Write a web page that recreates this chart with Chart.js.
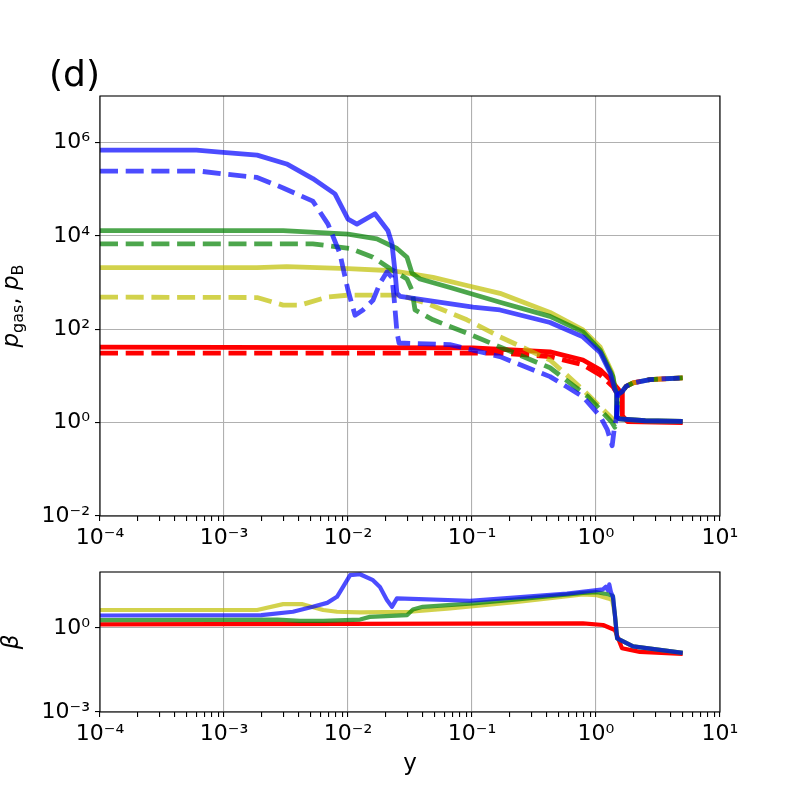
<!DOCTYPE html>
<html>
<head>
<meta charset="utf-8">
<script src="https://cdn.jsdelivr.net/npm/chart.js@4.4.1/dist/chart.umd.min.js"></script>
<style>
html,body{margin:0;padding:0;background:#fff;}
#wrap{position:relative;width:800px;height:800px;background:#fff;}
canvas{position:absolute;left:0;}
</style>
</head>
<body>
<div id="wrap">
<canvas id="topChart" width="800" height="560" style="top:0;width:800px;height:560px"></canvas>
<canvas id="botChart" width="800" height="240" style="top:560px;width:800px;height:240px"></canvas>
</div>
<script>
// ---------- tick values and labels ----------
const xTickVals = [1e-4, 1e-3, 1e-2, 1e-1, 1, 10];
const xTickLabels = ['10⁻⁴', '10⁻³', '10⁻²', '10⁻¹', '10⁰', '10¹'];
const pTickVals = [1e-2, 1, 1e2, 1e4, 1e6];
const pTickLabels = ['10⁻²', '10⁰', '10²', '10⁴', '10⁶'];
const betaTickVals = [1e-3, 1];
const betaTickLabels = ['10⁻³', '10⁰'];

// ---------- top panel: p_gas (solid) and p_B (dashed) ----------
const pGasBlueX = [1e-4, 6.0e-4, 9.8e-4, 1.85e-3, 3.2e-3, 5.2e-3, 7.85e-3, 1.0e-2, 1.18e-2, 1.65e-2, 2.1e-2, 2.26e-2, 2.39e-2, 2.48e-2, 2.63e-2, 0.102, 0.168, 0.426, 0.785, 1.08, 1.30, 1.42, 1.47, 1.47, 1.55, 2.5, 5.0];
const pGasBlueY = [6.9e5, 6.9e5, 6.2e5, 5.4e5, 3.5e5, 1.7e5, 8.0e4, 2.3e4, 1.8e4, 3.0e4, 1.3e4, 6.9e3, 1.8e3, 5.9e2, 5.1e2, 3.0e2, 2.6e2, 1.4e2, 69, 32, 11.7, 5.1, 4.3, 1.35, 1.2, 1.1, 1.07];

const pBBlueX = [1e-4, 6.4e-4, 1.06e-3, 1.85e-3, 3.0e-3, 5.2e-3, 6.9e-3, 8.6e-3, 1.0e-2, 1.14e-2, 1.32e-2, 1.59e-2, 1.81e-2, 2.06e-2, 2.26e-2, 2.35e-2, 2.48e-2, 2.58e-2, 6.65e-2, 0.102, 0.168, 0.426, 0.785, 1.08, 1.23, 1.30, 1.35, 1.40, 1.47, 1.50, 1.62, 1.75, 1.99, 2.72, 5.0];
const pBBlueY = [2.45e5, 2.45e5, 2.1e5, 1.8e5, 1.07e5, 5.6e4, 1.8e4, 4.2e3, 6.9e2, 2.0e2, 2.6e2, 4.2e2, 9.7e2, 1.7e3, 1.3e3, 4.9e2, 88, 51, 47, 36, 26, 9.7, 3.6, 1.37, 0.72, 0.45, 0.32, 0.7, 1.4, 4.0, 4.6, 6.0, 7.1, 8.4, 9.1];

const pGasGreenX = [1e-4, 3.0e-3, 1.0e-2, 1.71e-2, 2.48e-2, 2.99e-2, 3.28e-2, 3.81e-2, 6.65e-2, 0.168, 0.426, 0.785, 1.08, 1.37, 1.42, 1.47, 1.47, 1.55, 2.5, 5.0];
const pGasGreenY = [1.3e4, 1.3e4, 1.1e4, 8.7e3, 5.4e3, 3.5e3, 1.6e3, 1.2e3, 7.9e2, 3.8e2, 1.9e2, 88, 36, 9.7, 5.6, 4.3, 1.35, 1.2, 1.1, 1.07];

const pBGreenX = [1e-4, 5.2e-3, 1.04e-2, 1.59e-2, 2.18e-2, 2.99e-2, 3.28e-2, 3.47e-2, 4.85e-2, 9.1e-2, 0.168, 0.426, 0.861, 1.08, 1.35, 1.42, 1.47, 1.50, 1.62, 1.75, 1.99, 2.72, 5.0];
const pBGreenY = [6.8e3, 6.8e3, 5.4e3, 3.5e3, 2.0e3, 1.2e3, 6.9e2, 2.6e2, 1.6e2, 83, 42, 15, 3.6, 1.9, 1.0, 0.8, 1.5, 4.0, 4.6, 6.0, 7.1, 8.4, 9.1];

const pGasYellowX = [1e-4, 1.85e-3, 3.2e-3, 1.0e-2, 2.31e-2, 4.85e-2, 9.1e-2, 0.168, 0.426, 0.785, 1.08, 1.35, 1.42, 1.47, 1.47, 1.55, 2.5, 5.0];
const pGasYellowY = [2.1e3, 2.1e3, 2.2e3, 2.0e3, 1.8e3, 1.3e3, 8.7e2, 5.9e2, 2.3e2, 97, 42, 11.7, 5.6, 4.3, 1.35, 1.2, 1.1, 1.07];

const pBYellowX = [1e-4, 1.85e-3, 3.0e-3, 4.1e-3, 6.77e-3, 1.0e-2, 2.63e-2, 4.34e-2, 9.1e-2, 0.168, 0.426, 0.785, 1.08, 1.42, 1.47, 1.50, 1.62, 1.75, 1.99, 2.72, 5.0];
const pBYellowY = [4.9e2, 4.8e2, 3.3e2, 3.3e2, 4.9e2, 5.4e2, 5.4e2, 3.6e2, 1.6e2, 69, 22, 5.1, 2.2, 1.07, 1.6, 4.0, 4.6, 6.0, 7.1, 8.4, 9.1];

const pGasRedX = [1e-4, 0.102, 0.426, 0.785, 1.08, 1.30, 1.48, 1.58, 1.63, 1.63, 1.8, 5.0];
const pGasRedY = [41.5, 40, 33, 22, 13.6, 8.4, 5.6, 4.5, 4.6, 1.4, 1.05, 1.0];

const pBRedX = [1e-4, 0.168, 0.426, 0.785, 1.08, 1.37, 1.50, 1.62, 1.75, 1.99, 2.72, 5.0];
const pBRedY = [31, 31, 26, 17.5, 10.6, 5.9, 4.0, 4.6, 6.0, 7.1, 8.4, 9.1];

// ---------- bottom panel: beta ----------
const betaBlueX = [1e-4, 2.0e-3, 3.6e-3, 5.2e-3, 6.8e-3, 8.15e-3, 9.1e-3, 1.04e-2, 1.25e-2, 1.59e-2, 1.81e-2, 2.06e-2, 2.26e-2, 2.48e-2, 9.6e-2, 0.231, 0.583, 1.02, 1.14, 1.20, 1.25, 1.28, 1.32, 1.37, 1.42, 1.48, 1.99, 5.0];
const betaBlueY = [2.8, 2.9, 3.8, 5.7, 7.9, 13, 29, 77, 83, 51, 29, 10, 5.7, 11.4, 9.4, 12.4, 17, 22.5, 24, 30, 22, 36, 19, 13, 2.9, 0.43, 0.22, 0.13];

const betaYellowX = [1e-4, 1.85e-3, 3.0e-3, 4.3e-3, 6.3e-3, 8.15e-3, 1.25e-2, 3.16e-2, 6.65e-2, 0.231, 0.785, 1.02, 1.25, 1.35, 1.42, 1.48, 1.99, 5.0];
const betaYellowY = [4.4, 4.4, 7.1, 7.1, 4.4, 3.8, 3.6, 3.8, 5.0, 8.6, 15.8, 14.9, 11.4, 10, 3.0, 0.43, 0.22, 0.13];

const betaGreenX = [1e-4, 2.7e-3, 4.1e-3, 6.3e-3, 1.25e-2, 1.5e-2, 3.0e-2, 3.34e-2, 4.0e-2, 0.102, 0.231, 0.785, 1.02, 1.25, 1.37, 1.42, 1.48, 1.99, 5.0];
const betaGreenY = [1.9, 2.0, 1.8, 1.8, 2.0, 2.5, 2.9, 4.6, 5.7, 7.6, 10.5, 18, 19, 16, 14, 3.0, 0.43, 0.22, 0.13];

const betaRedX = [1e-4, 0.785, 1.14, 1.42, 1.62, 2.26, 5.0];
const betaRedY = [1.35, 1.47, 1.28, 0.85, 0.19, 0.14, 0.12];

// ---------- styles ----------
const BLUE = 'rgba(0,0,255,0.7)';
const GREEN = 'rgba(0,128,0,0.7)';
const YELLOW = 'rgba(191,191,0,0.7)';
const RED = 'rgb(255,0,0)';
const FONT = "'DejaVu Sans', sans-serif";

function isDecade(v) {
  const l = Math.log10(v);
  return Math.abs(l - Math.round(l)) < 1e-6;
}
function labelFor(vals, labels) {
  return (value) => {
    const i = vals.findIndex(v => Math.abs(Math.log10(v) - Math.log10(value)) < 1e-6);
    return i >= 0 ? labels[i] : '';
  };
}
// major + minor x ticks (minor ticks get no label and no grid line)
const xAllTicks = [];
for (let e = -4; e <= 1; e++) {
  for (let m = 1; m <= 9; m++) {
    const v = m * Math.pow(10, e);
    if (v <= 10 * 1.0000001) xAllTicks.push(v);
  }
}

function series(xs, ys, color, dashed, width) {
  return {
    data: xs.map((x, i) => ({x: x, y: ys[i]})),
    borderColor: color,
    backgroundColor: color,
    borderWidth: width,
    borderDash: dashed ? [18, 7.7] : [],
    borderJoinStyle: 'round',
    borderCapStyle: 'butt',
    pointRadius: 0,
    pointHoverRadius: 0,
    fill: false,
    tension: 0
  };
}

const framePlugin = {
  id: 'frame',
  afterDatasetsDraw(chart) {
    const a = chart.chartArea, ctx = chart.ctx;
    ctx.save();
    ctx.strokeStyle = '#000';
    ctx.lineWidth = 1.1;
    ctx.strokeRect(a.left, a.top, a.right - a.left, a.bottom - a.top);
    ctx.restore();
  }
};

function drawParts(ctx, parts, x, y, rot) {
  ctx.save();
  ctx.translate(x, y);
  ctx.rotate(rot);
  ctx.fillStyle = '#000';
  ctx.textAlign = 'left';
  ctx.textBaseline = 'alphabetic';
  let total = 0;
  parts.forEach(p => { ctx.font = p.font; p.w = ctx.measureText(p.t).width; total += p.w; });
  let cx = -total / 2;
  parts.forEach(p => { ctx.font = p.font; ctx.fillText(p.t, cx, p.dy); cx += p.w; });
  ctx.restore();
}

const topText = {
  id: 'topText',
  afterDraw(chart) {
    const ctx = chart.ctx;
    ctx.save();
    ctx.fillStyle = '#000';
    ctx.font = '36px ' + FONT;
    ctx.textAlign = 'left';
    ctx.textBaseline = 'alphabetic';
    ctx.fillText('(d)', 49, 86);
    ctx.restore();
    const it = 'italic 23px ' + FONT, rm = '23px ' + FONT, sb = '16px ' + FONT;
    drawParts(ctx, [
      {t: 'p', font: it, dy: 0},
      {t: 'gas', font: sb, dy: 4.5},
      {t: ', ', font: rm, dy: 0},
      {t: 'p', font: it, dy: 0},
      {t: 'B', font: sb, dy: 4.5}
    ], 18, 306, -Math.PI / 2);
  }
};

const botText = {
  id: 'botText',
  afterDraw(chart) {
    const ctx = chart.ctx;
    drawParts(ctx, [{t: 'β', font: 'italic 23px ' + FONT, dy: 0}], 18, 82, -Math.PI / 2);
    drawParts(ctx, [{t: 'y', font: '23px ' + FONT, dy: 0}], 410, 210, 0);
  }
};

function xScale(height) {
  return {
    type: 'logarithmic',
    position: 'bottom',
    min: 1e-4,
    max: 10,
    afterBuildTicks: s => { s.ticks = xAllTicks.map(v => ({value: v})); },
    afterFit: s => { s.height = height; s.paddingLeft = 0; s.paddingRight = 0; },
    border: {display: false},
    grid: {
      color: c => (c.tick && isDecade(c.tick.value)) ? '#b0b0b0' : 'rgba(0,0,0,0)',
      lineWidth: 1.1,
      drawTicks: true,
      tickLength: 5,
      tickColor: '#000',
      tickWidth: 1.1
    },
    ticks: {
      autoSkip: false,
      maxRotation: 0,
      minRotation: 0,
      padding: 4,
      color: '#000',
      font: {family: FONT, size: 22},
      callback: labelFor(xTickVals, xTickLabels)
    }
  };
}
function yScale(min, max, vals, labels) {
  return {
    type: 'logarithmic',
    position: 'left',
    min: min,
    max: max,
    afterBuildTicks: s => { s.ticks = vals.map(v => ({value: v})); },
    afterFit: s => { s.width = 100; s.paddingTop = 0; s.paddingBottom = 0; },
    border: {display: false},
    grid: {
      color: '#b0b0b0',
      lineWidth: 1.1,
      drawTicks: true,
      tickLength: 5,
      tickColor: '#000',
      tickWidth: 1.1
    },
    ticks: {
      autoSkip: false,
      padding: 5,
      color: '#000',
      font: {family: FONT, size: 22},
      callback: labelFor(vals, labels)
    }
  };
}

const common = {
  responsive: false,
  animation: false,
  events: [],
  parsing: true,
  plugins: {legend: {display: false}, tooltip: {enabled: false}, title: {display: false}},
  elements: {line: {tension: 0}}
};

const LW = 4.8;
new Chart(document.getElementById('topChart'), {
  type: 'line',
  data: {
    datasets: [
      series(pGasBlueX, pGasBlueY, BLUE, false, LW),
      series(pBBlueX, pBBlueY, BLUE, true, LW),
      series(pGasGreenX, pGasGreenY, GREEN, false, LW),
      series(pBGreenX, pBGreenY, GREEN, true, LW),
      series(pGasYellowX, pGasYellowY, YELLOW, false, LW),
      series(pBYellowX, pBYellowY, YELLOW, true, LW),
      series(pGasRedX, pGasRedY, RED, false, LW),
      series(pBRedX, pBRedY, RED, true, LW)
    ]
  },
  options: Object.assign({}, common, {
    layout: {padding: {top: 96, right: 80, left: 0, bottom: 0}},
    scales: {
      x: xScale(44),
      y: yScale(1e-2, 1e7, pTickVals, pTickLabels)
    }
  }),
  plugins: [framePlugin, topText]
});

const LWB = 4.2;
new Chart(document.getElementById('botChart'), {
  type: 'line',
  data: {
    datasets: [
      series(betaBlueX, betaBlueY, BLUE, false, LWB),
      series(betaGreenX, betaGreenY, GREEN, false, LWB),
      series(betaYellowX, betaYellowY, YELLOW, false, LWB),
      series(betaRedX, betaRedY, RED, false, LWB)
    ]
  },
  options: Object.assign({}, common, {
    layout: {padding: {top: 12, right: 80, left: 0, bottom: 0}},
    scales: {
      x: xScale(88),
      y: yScale(1e-3, 1e2, betaTickVals, betaTickLabels)
    }
  }),
  plugins: [framePlugin, botText]
});
</script>
</body>
</html>
